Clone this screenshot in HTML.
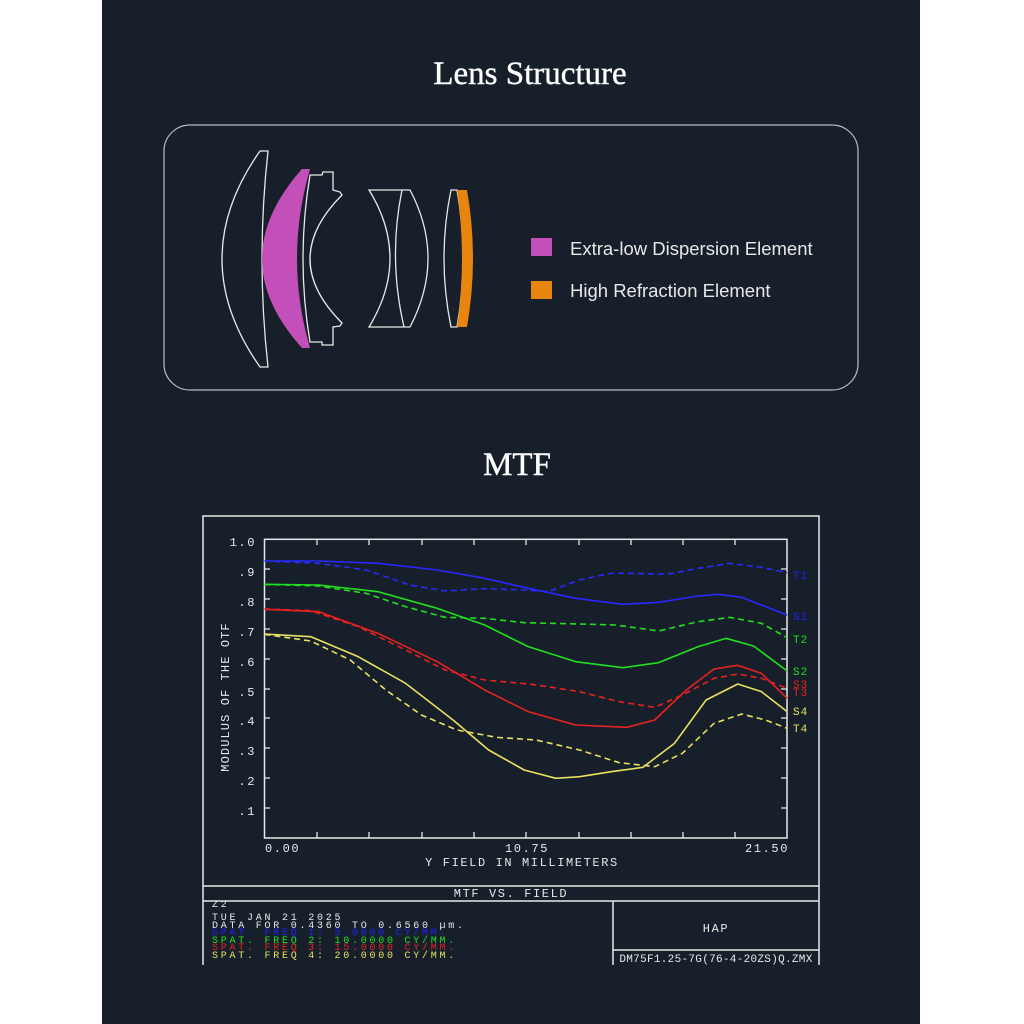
<!DOCTYPE html>
<html><head><meta charset="utf-8"><style>
html,body{margin:0;padding:0;background:#fff;}
body{width:1024px;height:1024px;position:relative;overflow:hidden;}
.panel{position:absolute;left:102px;top:0;width:818px;height:1024px;background:#17202a;}
svg{position:absolute;left:0;top:0;}
</style></head><body>
<div class="panel"></div>
<svg width="1024" height="1024" viewBox="0 0 1024 1024">
<text x="530" y="84" text-anchor="middle" font-family="Liberation Serif, serif" font-size="33" fill="#fff" stroke="#fff" stroke-width="0.4">Lens Structure</text>
<rect x="164" y="125" width="694" height="265" rx="26" fill="none" stroke="#b9bcc0" stroke-width="1.2"/>
<g fill="none" stroke="#e8e8e8" stroke-width="1.3">
<path d="M260,151 Q184,259 260,367 L268,367 Q256,259 268,151 Z"/>
<path d="M310,175 L322,175 L323,172 L333,172 L333,190 L340,192 L342,195 Q278,259 342,323 L340,326 L333,327 L333,345 L322,345 L322,342 L310,342 Q296,259 310,175 Z"/>
<path d="M369,190 L410,190 Q446,258 410,327 L369,327 L372,322 Q408,258 372,195 Z"/>
<path d="M402,190 Q388,258 404,327"/>
<path d="M451,190 L457,190 Q469,258 457,327 L451,327 Q437,258 451,190 Z"/>
</g>
<path d="M302,169 L310,169 Q284,259 310,348 L302,348 Q222,259 302,169 Z" fill="#c34fb9"/>
<path d="M457,190 L467,190 Q479,258 467,327 L457,327 Q467,258 457,190 Z" fill="#e8850f"/>
<rect x="531" y="238" width="21" height="18" fill="#c34fb9"/>
<rect x="531" y="281" width="21" height="18" fill="#e8850f"/>
<g font-family="Liberation Sans, sans-serif" font-size="18.5" fill="#e8e8e8">
<text x="570" y="255">Extra-low Dispersion Element</text>
<text x="570" y="297">High Refraction Element</text>
</g>
<text x="517" y="475" text-anchor="middle" font-family="Liberation Serif, serif" font-size="33" fill="#fff" stroke="#fff" stroke-width="0.4">MTF</text>

<g stroke="#e8e8e8" stroke-width="1.5" fill="none">
<path d="M203,965 L203,516 L819,516 L819,965"/>
<line x1="203" y1="886" x2="819" y2="886"/>
<line x1="203" y1="901" x2="819" y2="901"/>
<line x1="613" y1="901" x2="613" y2="965"/>
<line x1="613" y1="950" x2="819" y2="950"/>
<rect x="264.5" y="539.3" width="522.5" height="298.7"/>
</g>
<g stroke="#e8e8e8" stroke-width="1.3">
<path d="M317,539v6M369,539v6M422,539v6M474,539v6M526,539v6M579,539v6M631,539v6M683,539v6M735,539v6M317,838v-6M369,838v-6M422,838v-6M474,838v-6M526,838v-6M579,838v-6M631,838v-6M683,838v-6M735,838v-6"/>
<path d="M264,569h6M264,599h6M264,629h6M264,659h6M264,689h6M264,718h6M264,748h6M264,778h6M264,808h6M787,569h-6M787,599h-6M787,629h-6M787,659h-6M787,689h-6M787,718h-6M787,748h-6M787,778h-6M787,808h-6"/>
</g>
<g font-family="Liberation Mono, monospace" font-size="12" fill="#e8e8e8" letter-spacing="1.6">
<text x="256" y="546" text-anchor="end">1.0</text>
<text x="256" y="576" text-anchor="end">.9</text>
<text x="256" y="606" text-anchor="end">.8</text>
<text x="256" y="636" text-anchor="end">.7</text>
<text x="256" y="666" text-anchor="end">.6</text>
<text x="256" y="696" text-anchor="end">.5</text>
<text x="256" y="725" text-anchor="end">.4</text>
<text x="256" y="755" text-anchor="end">.3</text>
<text x="256" y="785" text-anchor="end">.2</text>
<text x="256" y="815" text-anchor="end">.1</text>
<text x="265" y="852">0.00</text>
<text x="527" y="852" text-anchor="middle">10.75</text>
<text x="789" y="852" text-anchor="end">21.50</text>
<text x="522" y="866" text-anchor="middle">Y FIELD IN MILLIMETERS</text>
<text transform="translate(229,697) rotate(-90)" text-anchor="middle" letter-spacing="1.1">MODULUS OF THE OTF</text>
<text x="511" y="897" text-anchor="middle">MTF VS. FIELD</text>
<text x="716" y="932" text-anchor="middle">HAP</text>
<text x="716" y="962" text-anchor="middle" font-size="11" letter-spacing="0.3">DM75F1.25-7G(76-4-20ZS)Q.ZMX</text>
<g font-size="10" letter-spacing="2.75">
<text x="212" y="907">Z2</text>
<text x="212" y="920">TUE JAN 21 2025</text>
<text x="212" y="928">DATA FOR 0.4360 TO 0.6560 µm.</text>
<text x="212" y="935" fill="#2020ff">SPAT. FREQ 1:   5.0000 CY/MM.</text>
<text x="212" y="943" fill="#20e020">SPAT. FREQ 2:  10.0000 CY/MM.</text>
<text x="212" y="950" fill="#e82020">SPAT. FREQ 3:  15.0000 CY/MM.</text>
<text x="212" y="958" fill="#e8e060">SPAT. FREQ 4:  20.0000 CY/MM.</text>
</g>
<g font-size="11" letter-spacing="1">
<text x="793" y="579" fill="#2020ff">T1</text>
<text x="793" y="620" fill="#2020ff">S1</text>
<text x="793" y="643" fill="#20e020">T2</text>
<text x="793" y="675" fill="#20e020">S2</text>
<text x="793" y="688" fill="#e82020">S3</text>
<text x="793" y="696" fill="#e82020">T3</text>
<text x="793" y="715" fill="#e8e060">S4</text>
<text x="793" y="732" fill="#e8e060">T4</text>
</g>
</g>
<g transform="translate(200,510) scale(0.3954,0.33333)" fill="none" stroke-width="1.6" stroke-linejoin="round">
<polyline vector-effect="non-scaling-stroke" stroke="#2828ff" stroke-dasharray="6,4" points="163,153 300,160 420,180 530,225 620,243 720,236 820,240 880,245 960,210 1040,190 1090,190 1180,193 1260,175 1340,160 1420,172 1485,188"/>
<polyline vector-effect="non-scaling-stroke" stroke="#2828ff" points="163,153 300,153 450,160 600,180 720,205 830,235 950,265 1070,283 1160,277 1260,258 1310,253 1370,262 1485,315"/>
<polyline vector-effect="non-scaling-stroke" stroke="#20e020" stroke-dasharray="6,4" points="163,223 300,228 420,250 520,290 620,322 720,325 820,338 960,342 1050,345 1160,363 1260,335 1340,322 1420,340 1485,383"/>
<polyline vector-effect="non-scaling-stroke" stroke="#20e020" points="163,223 300,225 450,245 600,295 720,345 830,410 950,455 1070,473 1160,458 1260,410 1330,385 1400,408 1485,483"/>
<polyline vector-effect="non-scaling-stroke" stroke="#e82020" stroke-dasharray="6,4" points="163,297 280,302 400,350 520,420 620,480 720,510 840,523 960,545 1060,575 1150,592 1220,555 1300,505 1360,492 1420,505 1485,535"/>
<polyline vector-effect="non-scaling-stroke" stroke="#e82020" points="163,298 300,305 450,370 600,455 720,540 830,605 950,645 1080,652 1150,630 1230,540 1300,477 1360,466 1420,490 1485,565"/>
<polyline vector-effect="non-scaling-stroke" stroke="#e8e060" stroke-dasharray="6,4" points="163,373 280,393 380,450 470,540 560,615 650,660 750,682 850,690 960,720 1060,758 1150,770 1220,730 1300,640 1370,612 1430,630 1485,655"/>
<polyline vector-effect="non-scaling-stroke" stroke="#e8e060" points="163,372 280,380 400,440 520,520 640,630 730,720 820,780 900,805 960,800 1040,785 1120,772 1200,700 1280,570 1360,522 1420,545 1485,605"/>
</g>
</svg>
</body></html>
